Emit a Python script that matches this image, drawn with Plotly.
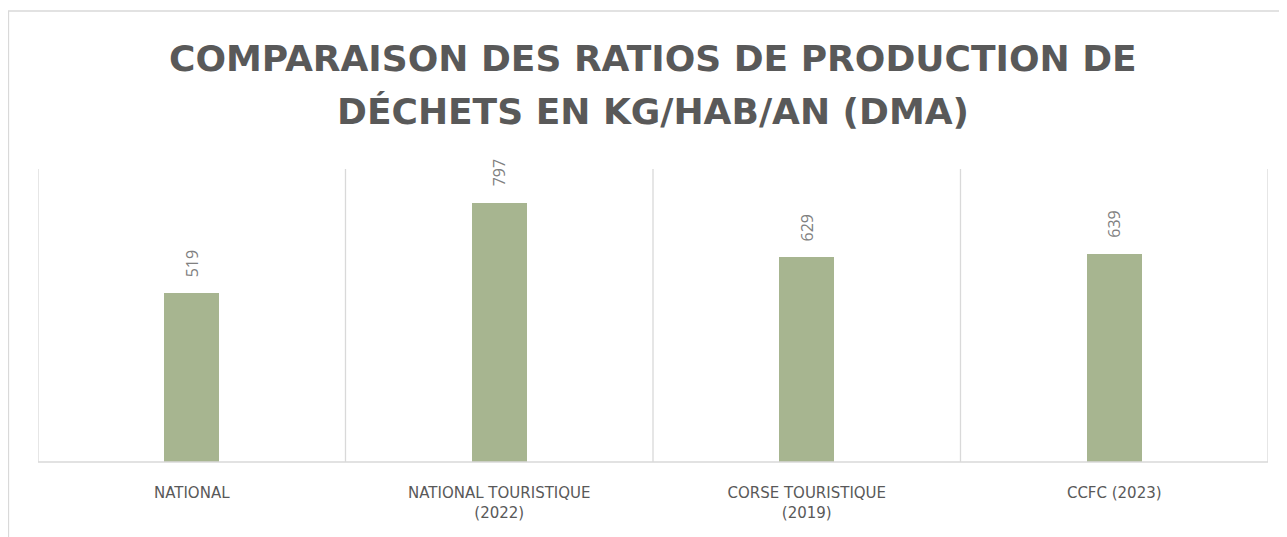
import plotly.graph_objects as go

categories = ["NATIONAL", "NATIONAL TOURISTIQUE<br>(2022)", "CORSE TOURISTIQUE<br>(2019)", "CCFC (2023)"]
values = [519, 797, 629, 639]
value_labels = ["519", "797", "629", "639"]
title_lines = ["COMPARAISON DES RATIOS DE PRODUCTION DE", "DÉCHETS EN KG/HAB/AN (DMA)"]

# page body has an 8px margin: figure origin sits at (8, 8) in the window
OFF = 8
W, H = 1287 - OFF, 537 - OFF
L, T = 38 - OFF, 169 - OFF
R = (OFF + W) - 1268
B = (OFF + H) - 462
pw, ph = W - L - R, H - T - B

fig = go.Figure()
fig.add_trace(go.Bar(
    x=list(range(len(categories))),
    y=values,
    marker=dict(color="#A7B590", line=dict(width=0)),
    width=0.18,
    hoverinfo="skip",
))

for i, (v, lab) in enumerate(zip(values, value_labels)):
    fig.add_annotation(x=i, y=v, text=lab, showarrow=False, textangle=-90,
                       xanchor="center", yanchor="bottom", yshift=14,
                       font=dict(family="Open Sans", size=16, color="#808080"))

# chart title (two lines), centred over the plot area
for line, ypx in zip(title_lines, [58.5, 111.5]):
    fig.add_annotation(xref="paper", yref="paper", x=0.5, xanchor="center",
                       y=1 + (T - (ypx - OFF)) / ph, yanchor="middle",
                       text="<b>" + line + "</b>", showarrow=False, align="center",
                       font=dict(family="DejaVu Sans", size=36, color="#595959"))

shapes = []
for i in range(len(categories) + 1):
    shapes.append(dict(type="line", xref="x", yref="paper", x0=i - 0.5, x1=i - 0.5, y0=0, y1=1,
                       line=dict(color="#d9d9d9", width=1.3), layer="below"))
shapes.append(dict(type="line", xref="paper", yref="paper", x0=0, x1=1, y0=0, y1=0,
                   line=dict(color="#d9d9d9", width=1.5)))
# outer chart border (left and top edges visible)
shapes.append(dict(type="rect", xref="paper", yref="paper",
                   x0=(8.5 - OFF - L) / pw, x1=(W + 40 - L) / pw,
                   y0=-(B + 40) / ph, y1=1 + (T - (11 - OFF)) / ph,
                   line=dict(color="#d9d9d9", width=1.3)))

fig.update_layout(
    width=W, height=H,
    margin=dict(l=L, r=R, t=T, b=B, pad=0),
    paper_bgcolor="white", plot_bgcolor="white",
    showlegend=False,
    bargap=0,
    shapes=shapes,
    xaxis=dict(
        range=[-0.5, len(categories) - 0.5],
        tickmode="array", tickvals=list(range(len(categories))), ticktext=categories,
        showgrid=False, zeroline=False, showline=False, ticks="",
        ticklabelstandoff=20,
        tickfont=dict(family="DejaVu Sans", size=15, color="#595959"),
        fixedrange=True,
    ),
    yaxis=dict(range=[0, 900], visible=False, fixedrange=True),
)

fig.write_html("out.html")
